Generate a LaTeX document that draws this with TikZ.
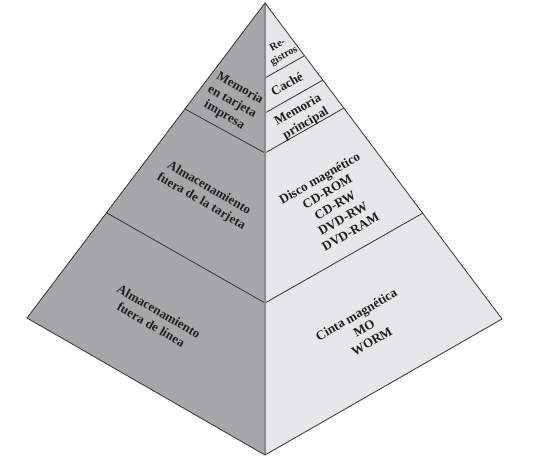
\documentclass[tikz,border=0pt]{standalone}
\usepackage{fontspec}
\setmainfont{Liberation Serif}
\definecolor{leftgray}{HTML}{A7A7A9}
\definecolor{rightgray}{HTML}{E7E7E9}
\definecolor{inkc}{HTML}{1E1E1E}
\begin{document}
\begin{tikzpicture}[x=1pt,y=-1pt,
  lbl/.style={font=\bfseries\fontsize{13}{15.5}\selectfont, align=center, text=inkc, inner sep=0pt},
  smalllbl/.style={font=\bfseries\fontsize{10.5}{12.5}\selectfont, align=center, text=inkc, inner sep=0pt},
  edge/.style={draw=black!80, line width=0.8pt, line join=miter},
  bandline/.style={draw=black!80, line width=0.8pt},
  midedge/.style={draw=black!45, line width=1.4pt}]
\useasboundingbox (0,0) rectangle (557,465);
\coordinate (A) at (265,3);
\coordinate (L) at (27,318);
\coordinate (F) at (265,455);
\coordinate (R) at (502,319);
% band points
\coordinate (c1) at (265,153);
\coordinate (l1) at (185,109);
\coordinate (r1) at (344,108);
\coordinate (c2) at (265,303);
\coordinate (l2) at (107,213);
\coordinate (r2) at (423,213);
\coordinate (ca) at (265,78);
\coordinate (ra) at (304,56);
\coordinate (cb) at (265,113);
\coordinate (rb) at (323,80);
% faces
\fill[leftgray] (A) -- (L) -- (F) -- cycle;
\fill[rightgray] (A) -- (F) -- (R) -- cycle;
% band lines
\draw[bandline] (l1) -- (c1) -- (r1);
\draw[bandline] (l2) -- (c2) -- (r2);
\draw[bandline] (ca) -- (ra);
\draw[bandline] (cb) -- (rb);
% central edge
\draw[midedge] (A) -- (F);
% outline
\draw[edge] (A) -- (L) -- (F) -- (R) -- cycle;
% labels
\node[lbl, rotate=-30] (t1) at (232,102) {Memoria\\en tarjeta\\impresa};
\node[lbl, rotate=-30] (t2) at (205,195) {Almacenamiento\\fuera de la tarjeta};
\node[lbl, rotate=-30] (t3) at (155,318) {Almacenamiento\\fuera de línea};
\node[lbl, rotate=30] (t4) at (335,205) {Disco magnético\\CD-ROM\\CD-RW\\DVD-RW\\DVD-RAM};
\node[lbl, rotate=30] (t5) at (364,328) {Cinta magnética\\MO\\WORM};
\node[smalllbl, rotate=30] (t6) at (281,51) {Re-\\gistros};
\node[lbl, rotate=30] (t7) at (287,84) {Caché};
\node[lbl, rotate=30] (t8) at (302,117) {Memoria\\principal};
\end{tikzpicture}
\end{document}
